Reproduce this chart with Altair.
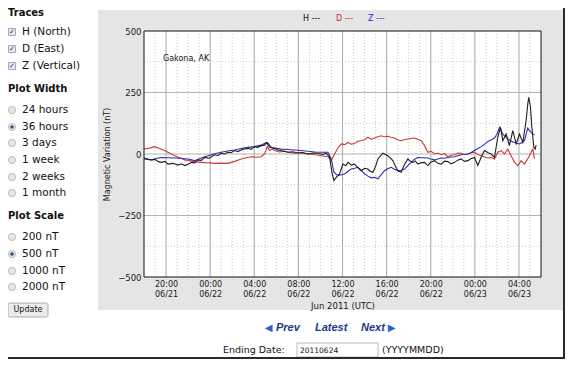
import altair as alt
import pandas as pd

# ---------------- data (hours after 2011-06-21 18:00 UTC, nT) ----------------
h_t = [0.0, 0.35, 0.66, 1.0, 1.3, 1.57, 1.9, 2.18, 2.6, 3.08, 3.4, 3.69, 4.0, 4.29, 4.6, 4.89,
       5.2, 5.5, 5.9, 6.4, 6.7, 7.01, 7.3, 7.61, 7.9, 8.22, 8.5, 8.82, 9.1, 9.43, 9.7, 10.03,
       10.3, 10.63, 10.9, 11.18, 11.54, 11.8, 12.15, 12.6, 13.05, 13.5, 13.96, 14.4, 14.86,
       15.3, 15.77, 16.2, 16.53, 16.83, 17.04, 17.22, 17.43, 17.73, 18.04, 18.3, 18.49, 18.8,
       19.09, 19.4, 19.7, 20.0, 20.3, 20.5, 20.76, 21.0, 21.21, 21.66, 22.11, 22.57, 22.8,
       23.02, 23.32, 23.6, 23.93, 24.15, 24.38, 24.6, 24.83, 25.1, 25.44, 25.74, 26.0, 26.34,
       26.65, 26.95, 27.25, 27.55, 27.85, 28.16, 28.45, 28.76, 29.05, 29.37, 29.67, 29.97,
       30.27, 30.6, 30.88, 31.2, 31.48, 31.78, 32.08, 32.33, 32.54, 32.84, 33.14, 33.44, 33.75,
       34.05, 34.35, 34.65, 34.8, 34.89, 35.05, 35.17, 35.35, 35.47, 35.56]
h_v = [-16, -20, -24, -22, -31, -34, -30, -41, -38, -45, -40, -47, -42, -34, -36, -24,
       -26, -14, -17, -3, -6, 3, 0, 7, 5, 14, 10, 16, 20, 23, 19, 30,
       27, 34, 36, 47, 27, 22, 16, 12, 7, 9, 4, 6, 0,
       4, 3, -2, 3, -14, -74, -108, -95, -81, -41, -48, -34, -45,
       -41, -55, -68, -58, -61, -70, -74, -50, -20, 3, -7, -27, -50,
       -68, -74, -45, -20, -30, -34, -28, -41, -36, -34, -47, -33, -27,
       -38, -41, -29, -31, -40, -34, -25, -20, -30, -27, -18, -14,
       -47, -10, 14, 5, 0, -14, 68, 108, 54, 81, 34, 95, 41,
       81, 47, 135, 203, 230, 190, 108, 27, 20, 36]

d_t = [0.0, 0.5, 0.97, 1.4, 1.87, 2.3, 2.78, 3.2, 3.69, 4.1, 4.59, 5.0, 5.5, 6.0, 6.4, 7.0,
       7.61, 8.22, 8.82, 9.3, 9.73, 10.2, 10.63, 10.94, 11.18, 11.39, 11.6, 11.84, 12.3, 12.75,
       13.2, 13.66, 14.2, 14.86, 15.4, 16.07, 16.68, 16.98, 17.28, 17.6, 17.89, 18.2, 18.49,
       18.8, 19.09, 19.4, 19.7, 20.0, 20.3, 20.6, 20.91, 21.2, 21.51, 21.8, 22.11, 22.4, 22.72,
       23.0, 23.32, 23.6, 23.93, 24.2, 24.53, 24.8, 25.14, 25.44, 25.74, 26.04, 26.34, 26.65,
       26.95, 27.25, 27.55, 27.85, 28.16, 28.45, 28.76, 29.05, 29.37, 29.67, 29.97, 30.27,
       30.57, 30.9, 31.18, 31.5, 31.78, 32.08, 32.39, 32.69, 32.99, 33.29, 33.6, 33.9, 34.2,
       34.5, 34.8, 35.11, 35.26, 35.41]
d_v = [20, 24, 30, 22, 14, 4, -7, -14, -24, -27, -31, -33, -35, -36, -38, -37,
       -38, -30, -20, -15, -11, -13, -11, 0, 30, 14, 20, 14, 8, 11,
       6, 3, 5, 0, -2, -7, -11, -27, 0, 25, 41, 38, 47,
       40, 43, 52, 54, 58, 68, 60, 65, 70, 74, 70, 72, 68, 65,
       58, 54, 58, 61, 63, 65, 60, 54, 34, 7, 11, 0, 4,
       -3, 2, -11, -5, -3, 4, 3, -2, 0, 5, 7, -2,
       -7, -12, -16, -14, -20, 7, 14, 0, 20, -7, -34, -47, -27,
       -41, -20, 7, 20, -20]

z_t = [0.0, 0.3, 0.66, 1.1, 1.57, 2.2, 2.78, 3.4, 3.99, 4.59, 5.2, 5.6, 6.1, 6.5, 7.01, 7.6,
       8.22, 8.8, 9.43, 10.0, 10.63, 11.09, 11.39, 11.9, 12.45, 13.0, 13.66, 14.2, 14.86, 15.5,
       16.07, 16.68, 16.98, 17.22, 17.58, 17.9, 18.19, 18.5, 18.79, 19.1, 19.4, 19.7, 20.0,
       20.3, 20.6, 20.9, 21.21, 21.5, 21.81, 22.1, 22.42, 22.7, 23.02, 23.3, 23.63, 23.9,
       24.23, 24.5, 24.83, 25.3, 25.74, 26.0, 26.34, 26.65, 26.95, 27.25, 27.55, 27.85, 28.16,
       28.45, 28.76, 29.05, 29.37, 29.67, 29.97, 30.27, 30.57, 30.9, 31.18, 31.5, 31.78, 32.0,
       32.24, 32.54, 32.8, 32.99, 33.3, 33.6, 33.8, 34.05, 34.3, 34.5, 34.65, 34.8, 34.95,
       35.11, 35.25, 35.41]
z_v = [-20, -22, -24, -18, -14, -15, -16, -18, -20, -27, -16, -10, -3, 2, 7, 12,
       16, 22, 27, 30, 36, 47, 27, 24, 20, 18, 16, 14, 11, 8,
       7, 7, -20, -74, -88, -84, -81, -70, -61, -58, -54, -66, -81,
       -90, -97, -95, -101, -85, -68, -60, -54, -62, -68, -66, -61, -48,
       -34, -22, -14, -15, -16, -20, -24, -20, -16, -17, -14, -12, -11,
       -7, -3, -2, 0, 6, 14, 22, 30, 40, 51, 58, 65, 80,
       108, 81, 70, 61, 52, 47, 44, 41, 48, 54, 80, 105, 95,
       88, 82, 77]

series_names = ["H", "D", "Z"]
series_colors = ["#1e1e1e", "#cc3a3a", "#2e2eb4"]

tick_hours = [2, 6, 10, 14, 18, 22, 26, 30, 34]
tick_time = ["20:00", "00:00", "04:00", "08:00", "12:00", "16:00", "20:00", "00:00", "04:00"]
tick_date = ["06/21", "06/22", "06/22", "06/22", "06/22", "06/22", "06/22", "06/23", "06/23"]
minor_hours = [h for h in range(1, 36) if h not in tick_hours]
y_major = [-250, 0, 250]
y_minor = [-375, -125, 125, 375]
y_ticks = [-500, -250, 0, 250, 500]

traces = ["H (North)", "D (East)", "Z (Vertical)"]
widths = ["24 hours", "36 hours", "3 days", "1 week", "2 weeks", "1 month"]
scales_ = ["200 nT", "500 nT", "1000 nT", "2000 nT"]

# ---------------- build ----------------
rows = []
for name, ts, vs in [("D", d_t, d_v), ("Z", z_t, z_v), ("H", h_t, h_v)]:
    for t, v in zip(ts, vs):
        rows.append({"t": t, "v": v, "s": name})
df = pd.DataFrame(rows)

W, H = 397, 246
FONT = "DejaVu Sans"

expr = ""
for hh, a, b in zip(tick_hours, tick_time, tick_date):
    expr += f"datum.value == {hh} ? ['{a}', '{b}'] : "
expr += "''"

xscale = alt.Scale(domain=[0, 36], nice=False, zero=False)
yscale = alt.Scale(domain=[-500, 500], nice=False, zero=False)
xaxis = alt.Axis(values=tick_hours, labelExpr=expr, title="Jun 2011 (UTC)", grid=False,
                 domain=False, ticks=False, labelFont=FONT, labelFontSize=8, labelLineHeight=10.5,
                 labelPadding=3, titleFont=FONT, titleFontSize=8.5, titleFontWeight="normal",
                 titlePadding=3, zindex=1, labelColor="#1a1a1a", titleColor="#1a1a1a")
yaxis = alt.Axis(values=y_ticks, format="d", title="Magnetic Variation (nT)", grid=False,
                 domain=False, ticks=False, labelFont=FONT, labelFontSize=8.5, labelPadding=3,
                 titleFont=FONT, titleFontSize=8, titleFontWeight="normal", titlePadding=6,
                 zindex=1, labelColor="#1a1a1a", titleColor="#1a1a1a")

one = alt.Data(values=[{"a": 1}])
layers = []

def px(x):
    return x - 144

def py(y):
    return y - 31

# gray panel
layers.append(alt.Chart(one).mark_rect(color="#e5e5e5").encode(
    x=alt.value(px(98)), x2=alt.value(px(563)), y=alt.value(py(10)), y2=alt.value(py(310))))

# white plot area through scales
box = pd.DataFrame({"x0": [0], "x1": [36], "y0": [-500], "y1": [500]})
layers.append(alt.Chart(box).mark_rect(color="white").encode(
    x=alt.X("x0:Q", scale=xscale, axis=xaxis), x2="x1:Q",
    y=alt.Y("y0:Q", scale=yscale, axis=yaxis), y2="y1:Q"))

# grid
layers.append(alt.Chart(pd.DataFrame({"g": minor_hours})).mark_rule(
    color="#bdbdbd", strokeWidth=0.8, strokeDash=[1, 2]).encode(
    x=alt.X("g:Q", scale=xscale, axis=xaxis)))
layers.append(alt.Chart(pd.DataFrame({"g": y_minor})).mark_rule(
    color="#bdbdbd", strokeWidth=0.8, strokeDash=[1, 2]).encode(
    y=alt.Y("g:Q", scale=yscale, axis=yaxis)))
layers.append(alt.Chart(pd.DataFrame({"g": tick_hours})).mark_rule(
    color="#b4b4b4", strokeWidth=1.2).encode(
    x=alt.X("g:Q", scale=xscale, axis=xaxis)))
layers.append(alt.Chart(pd.DataFrame({"g": y_major})).mark_rule(
    color="#b4b4b4", strokeWidth=1.2).encode(
    y=alt.Y("g:Q", scale=yscale, axis=yaxis)))

# data lines
layers.append(alt.Chart(df).mark_line(strokeWidth=1.1).encode(
    x=alt.X("t:Q", scale=xscale, axis=xaxis),
    y=alt.Y("v:Q", scale=yscale, axis=yaxis),
    color=alt.Color("s:N", scale=alt.Scale(domain=series_names, range=series_colors), legend=None),
    detail="s:N",
    order=alt.Order("t:Q")))

# frame
layers.append(alt.Chart(box).mark_rect(fill=None, stroke="#111", strokeWidth=1).encode(
    x=alt.X("x0:Q", scale=xscale, axis=xaxis), x2="x1:Q",
    y=alt.Y("y0:Q", scale=yscale, axis=yaxis), y2="y1:Q"))

def txt(s, x, y, size=10.5, weight="normal", color="#111", align="left", font=FONT, style="normal"):
    layers.append(alt.Chart(one).mark_text(
        text=s, align=align, baseline="middle", font=font, fontSize=size,
        fontWeight=weight, fontStyle=style, color=color).encode(
        x=alt.value(px(x)), y=alt.value(py(y))))

# legend header and station
txt("H ---", 303, 18.5, size=8, color="#111")
txt("D ---", 336, 18.5, size=8, color="#d42a2a")
txt("Z ---", 368, 18.5, size=8, color="#2a2ab8")
txt("Gakona, AK", 163, 59, size=8, color="#111")

# sidebar
txt("Traces", 8, 13, size=10, weight="bold")
txt("Plot Width", 8, 89, size=10, weight="bold")
txt("Plot Scale", 8, 216, size=10, weight="bold")

for i, (lab, yy) in enumerate(zip(traces, [32, 49, 66])):
    layers.append(alt.Chart(one).mark_square(size=49, fill="#e4e9f0", stroke="#8c98a8",
                                             strokeWidth=0.8, opacity=1).encode(
        x=alt.value(px(12)), y=alt.value(py(yy))))
    txt("\u2713", 12, yy, size=7, color="#2a3550", align="center")
    txt(lab, 22, yy)

def radio(lab, yy, sel):
    layers.append(alt.Chart(one).mark_circle(size=52, fill="#e6e6e6", stroke="#b0b0b0",
                                             strokeWidth=0.8, opacity=1).encode(
        x=alt.value(px(12)), y=alt.value(py(yy))))
    if sel:
        layers.append(alt.Chart(one).mark_circle(size=12, fill="#1f4f7a", opacity=1).encode(
            x=alt.value(px(12)), y=alt.value(py(yy))))
    txt(lab, 22, yy)

for lab, yy in zip(widths, [110, 127, 143, 160, 177, 193]):
    radio(lab, yy, lab == "36 hours")
for lab, yy in zip(scales_, [237, 254, 271, 287]):
    radio(lab, yy, lab == "500 nT")

# update button
layers.append(alt.Chart(one).mark_rect(fill="#ececec", stroke="#9a9a9a", strokeWidth=0.8,
                                       cornerRadius=2).encode(
    x=alt.value(px(8)), x2=alt.value(px(48)), y=alt.value(py(303)), y2=alt.value(py(317))))
txt("Update", 28, 310, size=8, align="center", color="#111")

# navigation
txt("\u25C0", 268.5, 328, size=10, color="#2a64c8", align="center")
txt("Prev", 276, 328, size=11, weight="bold", style="italic", color="#1b3a8c",
    font="Liberation Sans")
txt("Latest", 315, 328, size=11, weight="bold", style="italic", color="#1b3a8c",
    font="Liberation Sans")
txt("Next", 361, 328, size=11, weight="bold", style="italic", color="#1b3a8c",
    font="Liberation Sans")
txt("\u25B6", 391.5, 328, size=10, color="#2a64c8", align="center")

txt("Ending Date:", 223, 350, size=9.5)
layers.append(alt.Chart(one).mark_rect(fill="white", stroke="#a8a8a8", strokeWidth=0.8).encode(
    x=alt.value(px(297)), x2=alt.value(px(378)), y=alt.value(py(343)), y2=alt.value(py(357))))
txt("20110624", 300, 350.5, size=7.5)
txt("(YYYYMMDD)", 382, 350, size=9.5)

# page border / shadow (kept inside the drawable area)
layers.append(alt.Chart(one).mark_rule(color="#2a2a2a", strokeWidth=2).encode(
    x=alt.value(px(564)), y=alt.value(py(8)), y2=alt.value(py(359))))
layers.append(alt.Chart(one).mark_rule(color="#2a2a2a", strokeWidth=2).encode(
    x=alt.value(px(8)), x2=alt.value(px(565)), y=alt.value(py(358))))

chart = alt.layer(*layers).properties(
    width=W, height=H,
    autosize=alt.AutoSizeParams(type="none"),
    padding={"left": 136, "top": 23, "right": 25, "bottom": 83},
    background="white",
).configure_view(stroke=None)

chart.save("out.html", embed_options={"renderer": "svg", "actions": False})
